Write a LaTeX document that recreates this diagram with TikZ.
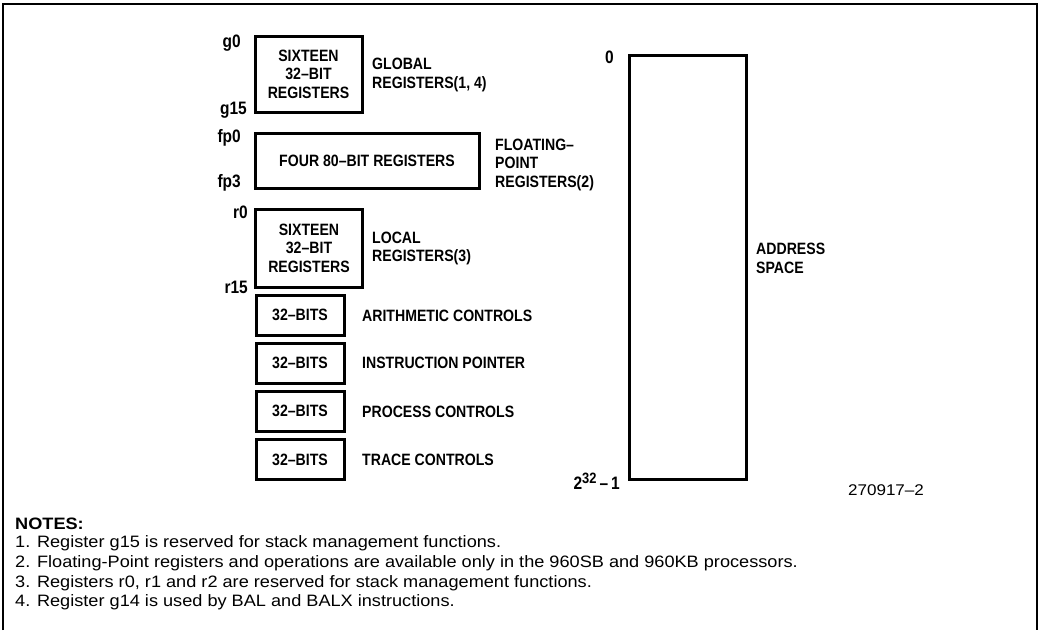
\documentclass[tikz,border=0pt]{standalone}
\usepackage{fontspec}
\setmainfont{Liberation Sans}
\newfontfamily\lblfont[FakeStretch=0.86]{Liberation Sans}
\newfontfamily\notefont[FakeStretch=1.1]{Liberation Sans}
\begin{document}
\begin{tikzpicture}[x=1pt,y=-1pt,
  lbl/.style={font=\lblfont\bfseries\fontsize{16.4}{18.5}\selectfont, inner sep=0pt},
  regbox/.style={draw, line width=3pt, lbl, align=center, minimum width=#1},
  regbox/.default=107pt,
  sidelbl/.style={lbl, anchor=west, align=left},
  idx/.style={font=\lblfont\bfseries\fontsize{18}{18}\selectfont, inner sep=0pt, anchor=east},
  note/.style={font=\notefont\fontsize{16.5}{20}\selectfont, anchor=west, inner sep=0pt}
]
\useasboundingbox (0,0) rectangle (1043,630);
% frame
\draw[line width=2pt] (3,630) -- (3,4) -- (1037,4) -- (1037,630);

% global registers
\node[regbox, minimum height=76pt] (glob) at (308.5,74) {SIXTEEN\\32–BIT\\REGISTERS};
\node[idx] (g0) at (241,43) {g0};
\node[idx] (g15) at (247,110) {g15};
\node[sidelbl] (globl) at (372,75) {GLOBAL\\REGISTERS(1, 4)};

% floating point
\node[regbox=224pt, minimum height=55pt] (fp) at (367,160.5) {FOUR 80–BIT REGISTERS};
\node[idx] (fp0) at (241,138) {fp0};
\node[idx] (fp3) at (241,183) {fp3};
\node[sidelbl] (fpl) at (495,164.5) {FLOATING–\\POINT\\REGISTERS(2)};

% local registers
\node[regbox, minimum height=78pt] (loc) at (309,248) {SIXTEEN\\32–BIT\\REGISTERS};
\node[idx] (r0) at (248,212) {r0};
\node[idx] (r15) at (248,287) {r15};
\node[sidelbl] (locl) at (372,248.5) {LOCAL\\REGISTERS(3)};

% 32-bit control registers
\node[regbox=88pt, minimum height=40pt] (ac) at (300,315) {32–BITS};
\node[regbox=88pt, minimum height=40pt] (ip) at (300,363) {32–BITS};
\node[regbox=88pt, minimum height=40pt] (pc) at (300,411) {32–BITS};
\node[regbox=88pt, minimum height=40pt] (tc) at (300,459.5) {32–BITS};
\node[sidelbl] (acl) at (362,316) {ARITHMETIC CONTROLS};
\node[sidelbl] (ipl) at (362,363) {INSTRUCTION POINTER};
\node[sidelbl] (pcl) at (362,412) {PROCESS CONTROLS};
\node[sidelbl] (tcl) at (362,460) {TRACE CONTROLS};

% address space
\node[draw, line width=3pt, minimum width=117pt, minimum height=424pt, inner sep=0pt] (as) at (687.5,267) {};
\node[idx] (a0) at (614,57) {0};
\node[idx] (amax) at (620,481) {2\raisebox{6pt}{\fontsize{15}{15}\selectfont 32}\,–\,1};
\node[sidelbl] (asl) at (756,258.5) {ADDRESS\\SPACE};
\node[note, anchor=center, font=\notefont\fontsize{15.5}{18}\selectfont] (fig) at (886,490) {270917–2};

% notes
\node[note, font=\notefont\bfseries\fontsize{16.5}{20}\selectfont] (notes) at (15,524) {NOTES:};
\node[note] (n1) at (15,543) {1. Register g15 is reserved for stack management functions.};
\node[note] (n2) at (15,563) {2. Floating-Point registers and operations are available only in the 960SB and 960KB processors.};
\node[note] (n3) at (15,583) {3. Registers r0, r1 and r2 are reserved for stack management functions.};
\node[note] (n4) at (15,602) {4. Register g14 is used by BAL and BALX instructions.};
\end{tikzpicture}
\end{document}
